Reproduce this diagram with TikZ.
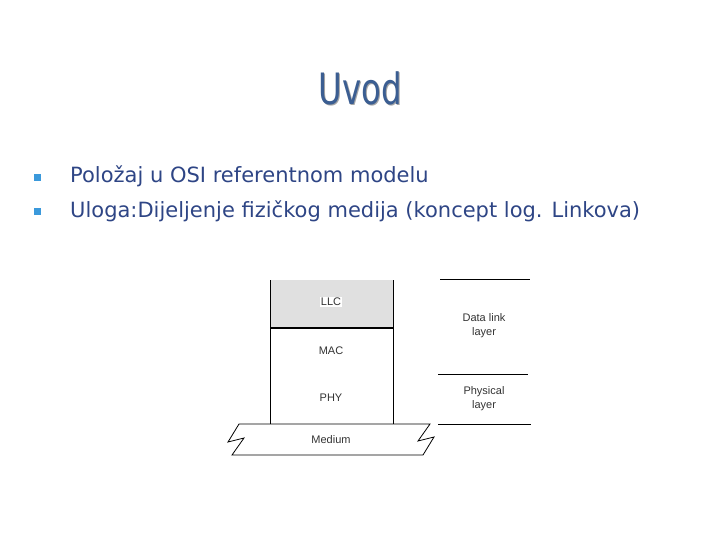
\documentclass[tikz,border=0pt]{standalone}
\usepackage{fontspec}
\setmainfont{DejaVu Sans}
\newfontfamily\diag{Liberation Sans}
\newfontfamily\cond{DejaVu Sans Condensed}
\begin{document}
\begin{tikzpicture}[x=1pt,y=-1pt,
  body/.style={text=txtblue,anchor=west,font=\fontsize{21}{24}\selectfont,inner sep=0pt},
  bul/.style={fill=cyan!70!blue!80,minimum size=7pt,inner sep=0pt},
  lbl/.style={font=\diag\fontsize{11}{14}\selectfont,align=center,text=black!80},
  ln/.style={line width=0.8pt}]
\definecolor{txtblue}{HTML}{2E4585}
\definecolor{ttl}{HTML}{3B5E92}
\useasboundingbox (0,0) rectangle (720,540);
\node[text=black!35,font=\cond\fontsize{36}{40}\selectfont,yscale=1.2] at (361.5,89.5) {Uvod};
\node (title) [text=ttl,font=\cond\fontsize{36}{40}\selectfont,yscale=1.2] at (360,88) {Uvod};
\node (b1) [bul] at (37,178) {};
\node (b2) [bul] at (37,212) {};
\node (t1) [body] at (70,176) {Položaj u OSI referentnom modelu};
\node (t2) [body] at (70,211) {Uloga:Dijeljenje fizičkog medija (koncept log. Linkova)};
% stack
\fill[black!12] (270,280) rectangle (393,328);
\draw[ln] (270,280) -- (270,424) (393,280) -- (393,424);
\draw[line width=1.4pt] (270,328) -- (393,328);
\node (llc) [lbl,fill=white,inner sep=1pt] at (331,302) {LLC};
\node (mac) [lbl] at (331,351) {MAC};
\node (phy) [lbl] at (331,398) {PHY};
\draw[ln] (239,424) -- (430,424) -- (418,441) -- (434,437) -- (423,455) -- (232,455) -- (244,438) -- (228,442) -- cycle;
\node (med) [lbl] at (331,440) {Medium};
\draw[ln] (440,279) -- (530,279) (438,374) -- (528,374) (438,424) -- (531,424);
\node (dl) [lbl] at (484,326) {Data link\\layer};
\node (pl) [lbl] at (484,399) {Physical\\layer};
\end{tikzpicture}
\end{document}
